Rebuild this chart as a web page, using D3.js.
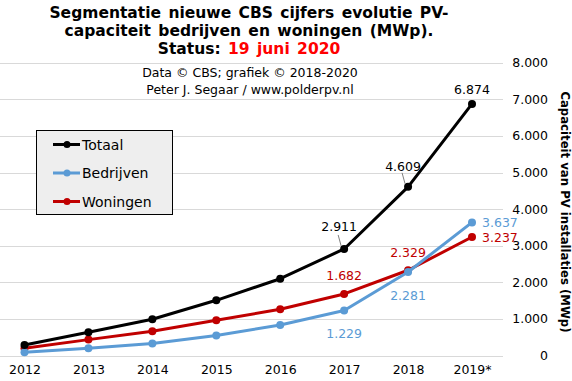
<!DOCTYPE html>
<html><head><meta charset="utf-8">
<script src="https://cdn.jsdelivr.net/npm/d3@7"></script>
<style>body{margin:0;background:#fff}svg{display:block}text{font-family:"DejaVu Sans",Verdana,sans-serif}</style>
</head><body><svg id="c" width="572" height="381"></svg>
<script>
const years = ["2012","2013","2014","2015","2016","2017","2018","2019*"];
const totaal = [287, 634, 989, 1508, 2098, 2911, 4609, 6874];
const bedrijven = [90, 200, 325, 545, 835, 1229, 2281, 3637];
const woningen = [197, 434, 664, 963, 1263, 1682, 2329, 3237];
const yTicks = [0,1000,2000,3000,4000,5000,6000,7000,8000];
const seriesNames = ["Totaal","Bedrijven","Woningen"];
const colors = ["#000000","#5B9BD5","#C00000"];

const svg = d3.select("#c");
const x = d3.scalePoint().domain(years).range([24.5, 472]);
const y = d3.scaleLinear().domain([0,8000]).range([355.5, 62.7]);
const fmt = v => d3.format(",")(v).replace(/,/g,".");

// grid
svg.append("g").selectAll("line").data(yTicks).join("line")
  .attr("x1",0).attr("x2",503).attr("y1",d=>Math.round(y(d))+0.5).attr("y2",d=>Math.round(y(d))+0.5)
  .attr("stroke","#d9d9d9").attr("stroke-width",1);

// right axis
const ax = d3.axisRight(y).tickValues(yTicks).tickSize(0).tickFormat(fmt);
const ga = svg.append("g").attr("transform","translate(548,0)").call(ax);
ga.select(".domain").remove();
ga.selectAll("text").attr("x",0).attr("text-anchor","end").attr("font-size",12.5).attr("fill","#000")
  .style("font-family","DejaVu Sans, Verdana, sans-serif");

// x axis
const bx = d3.axisBottom(x).tickSize(0);
const gb = svg.append("g").attr("transform","translate(0,362)").call(bx);
gb.select(".domain").remove();
gb.selectAll("text").attr("font-size",12.5).attr("fill","#000").attr("dy","0.7em")
  .style("font-family","DejaVu Sans, Verdana, sans-serif");

// axis title
svg.append("text").attr("transform","translate(561,212) rotate(90)").attr("text-anchor","middle")
  .attr("font-size",11.7).attr("font-weight","bold").text("Capaciteit van PV installaties (MWp)");

// lines
const data = [totaal, bedrijven, woningen];
const line = d3.line().x((d,i)=>x(years[i])).y(d=>y(d));
[2,1,0].forEach(k=>{
  svg.append("path").datum(data[k]).attr("d",line).attr("fill","none")
    .attr("stroke",colors[k]).attr("stroke-width",3).attr("stroke-linejoin","round");
  svg.append("g").selectAll("circle").data(data[k]).join("circle")
    .attr("cx",(d,i)=>x(years[i])).attr("cy",d=>y(d)).attr("r",4).attr("fill",colors[k]);
});

// data labels
function lab(k, i, dx, dy, anchor, leader){
  const v = data[k][i], px = x(years[i]), py = y(v);
  if (leader) svg.append("line").attr("x1",px-3).attr("y1",py-3).attr("x2",px-6).attr("y2",py-14)
    .attr("stroke","#808080").attr("stroke-width",1);
  svg.append("text").attr("x",px+dx).attr("y",py+dy).attr("text-anchor",anchor)
    .attr("font-size",12.5).attr("fill",colors[k]).text(fmt(v));
}
lab(0,7,0,-10,"middle");
lab(0,6,-5,-16,"middle",true);
lab(0,5,-5,-18,"middle",true);
lab(1,7,10,5,"start");
lab(2,7,10,5,"start");
lab(2,6,0,-13,"middle");
lab(1,6,0,28,"middle");
lab(2,5,0,-14,"middle");
lab(1,5,0,27,"middle");

// title
const t = svg.append("text").attr("text-anchor","middle").attr("font-weight","bold").attr("font-size",15.5)
  .attr("word-spacing",2);
t.append("tspan").attr("x",249).attr("y",18).text("Segmentatie nieuwe CBS cijfers evolutie PV-");
t.append("tspan").attr("x",249).attr("y",36).text("capaciteit bedrijven en woningen (MWp).");
const t3 = t.append("tspan").attr("x",249).attr("y",54);
t3.append("tspan").text("Status: ");
t3.append("tspan").attr("fill","#ff0000").text("19 juni 2020");

svg.append("text").attr("x",250).attr("y",77).attr("text-anchor","middle").attr("font-size",12.5)
  .text("Data © CBS; grafiek © 2018-2020");
svg.append("text").attr("x",250).attr("y",94).attr("text-anchor","middle").attr("font-size",12.5)
  .text("Peter J. Segaar / www.polderpv.nl");

// legend
const lg = svg.append("g");
lg.append("rect").attr("x",36.5).attr("y",130.5).attr("width",136).attr("height",84)
  .attr("fill","#eeeeee").attr("stroke","#000").attr("stroke-width",1);
seriesNames.forEach((n,i)=>{
  const yy = 144.5 + i*28.5;
  lg.append("line").attr("x1",53).attr("x2",80).attr("y1",yy).attr("y2",yy).attr("stroke",colors[i]).attr("stroke-width",3);
  lg.append("circle").attr("cx",67).attr("cy",yy).attr("r",3.5).attr("fill",colors[i]);
  lg.append("text").attr("x",82).attr("y",yy+5).attr("font-size",14).text(n);
});
</script></body></html>
